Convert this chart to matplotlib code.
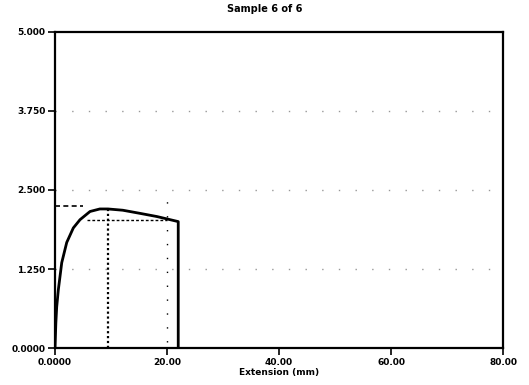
import matplotlib
matplotlib.use("Agg")
import matplotlib.pyplot as plt

# Data
extension = [0.0, 0.15, 0.30, 0.59, 1.20, 2.09, 3.27, 4.46, 6.25, 8.0, 9.46, 12.1, 15.2, 18.2, 22.0, 22.0]
load = [0.0, 0.40, 0.65, 0.92, 1.35, 1.67, 1.90, 2.03, 2.16, 2.20, 2.20, 2.18, 2.13, 2.08, 2.00, 0.0]

max_ext = 9.46
max_load = 2.24
ref_load = 2.02
break_ext = 20.0

x_ticks = [0, 20, 40, 60, 80]
x_tick_labels = ["0.0000", "20.00", "40.00", "60.00", "80.00"]
y_ticks = [0, 1.25, 2.5, 3.75, 5.0]
y_tick_labels = ["0.0000", "1.250", "2.500", "3.750", "5.000"]

fig = plt.figure(figsize=(5.29, 3.85), dpi=100)
ax = fig.add_axes([0.104, 0.096, 0.847, 0.821])

# faint dotted grid lines (scan artefacts)
for yv in y_ticks[1:4]:
    ax.axhline(yv, color="#444444", lw=1.0, ls=(0, (1, 11)), alpha=0.55)

# reference lines
ax.plot([0, 5.0], [max_load, max_load], color="black", lw=1.2, ls=(0, (3, 2)))
ax.plot([5.7, 20.0], [ref_load, ref_load], color="black", lw=1.0, ls=(0, (2, 1.5)))
ax.plot([max_ext, max_ext], [0, 2.2], color="black", lw=1.6, ls=(0, (1, 1.2)))
ax.plot([break_ext, break_ext], [0.1, 2.45], color="black", lw=1.0, ls=(0, (1, 9)))

# main curve
ax.plot(extension, load, color="black", lw=2.0)

ax.set_xlim(0, 80)
ax.set_ylim(0, 5.0)
ax.set_xticks(x_ticks)
ax.set_xticklabels(x_tick_labels)
ax.set_yticks(y_ticks)
ax.set_yticklabels(y_tick_labels)
ax.tick_params(direction="out", length=5, width=1.2, labelsize=6.5, pad=2)
for lab in ax.get_xticklabels() + ax.get_yticklabels():
    lab.set_fontweight("bold")
for s in ax.spines.values():
    s.set_linewidth(1.6)

ax.set_xlabel("Extension (mm)", fontsize=6.5, fontweight="bold", labelpad=1)
fig.text(0.5, 0.99, "Sample 6 of 6", ha="center", va="top", fontsize=7, fontweight="bold")

fig.savefig("out.png", dpi=100)
